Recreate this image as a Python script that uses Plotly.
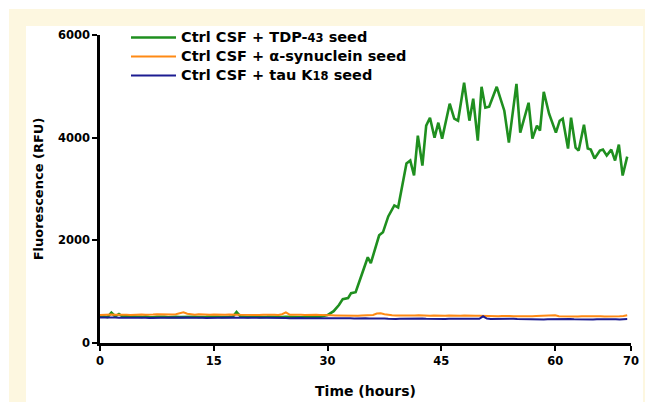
import plotly.graph_objects as go

# ---------------- data ----------------
hours = [i * 0.5 for i in range(140)]  # sampling grid, 0 .. 69.5 h

orange_rfu = [
    545, 550, 560, 555, 548, 552, 558, 550, 545, 553, 560, 556, 550, 548, 555, 562, 558, 552, 550, 556,
    560, 575, 600, 570, 555, 550, 558, 553, 548, 552, 556, 550, 545, 548, 553, 558, 552, 548, 545, 550,
    553, 548, 545, 550, 556, 552, 548, 545, 560, 595, 552, 546, 552, 548, 545, 550, 553, 548, 545, 548,
    545, 540, 538, 535, 540, 536, 532, 535, 530, 534, 538, 536, 545, 575, 580, 560, 545, 540, 538, 535,
    538, 535, 532, 536, 540, 535, 530, 533, 536, 532, 528, 532, 535, 530, 528, 532, 535, 530, 527, 530,
    532, 528, 525, 530, 527, 523, 526, 530, 525, 522, 520, 525, 528, 523, 520, 524, 527, 522, 520, 523,
    540, 522, 518, 520, 524, 520, 516, 520, 523, 518, 515, 520, 522, 518, 515, 519, 522, 520, 525, 540,
]

blue_rfu = [
    495, 498, 492, 500, 496, 490, 494, 498, 493, 490, 495, 498, 492, 488, 493, 497, 494, 490, 492, 496,
    498, 505, 500, 495, 490, 493, 497, 492, 488, 491, 495, 490, 487, 490, 494, 497, 492, 488, 486, 490,
    492, 488, 486, 490, 493, 489, 485, 487, 490, 486, 484, 488, 491, 487, 484, 486, 489, 485, 483, 486,
    488, 484, 482, 485, 488, 484, 480, 478, 482, 485, 481, 478, 480, 483, 479, 476, 470, 465, 468, 472,
    475, 478, 474, 471, 474, 477, 473, 470, 473, 476, 472, 469, 472, 475, 471, 468, 471, 474, 470, 467,
    470, 520, 475, 468, 471, 474, 470, 466, 469, 472, 468, 465, 462, 460, 463, 466, 462, 459, 462, 465,
    468, 464, 461, 464, 467, 463, 460, 463, 466, 462, 459, 462, 465, 461, 458, 461, 464, 460, 463, 466,
]

green_hours = [i * 0.5 for i in range(58)] + [
    29.0, 30.0, 30.8, 31.5, 32.0, 32.7, 33.1, 33.7, 34.5, 35.3, 35.7, 36.8, 37.3, 38.0, 38.8, 39.3,
    40.4, 40.9, 41.4, 41.9, 42.5, 43.0, 43.5, 44.1, 44.6, 45.1, 46.1, 46.7, 47.2, 48.0, 48.7, 49.2,
    49.8, 50.3, 50.8, 51.3, 52.3, 53.3, 53.9, 54.9, 55.4, 56.5, 57.0, 57.6, 58.0, 58.5, 59.2, 60.1,
    60.6, 61.0, 61.7, 62.1, 62.7, 63.1, 63.8, 64.3, 64.7, 65.2, 65.9, 66.3, 66.8, 67.4, 67.9, 68.4,
    68.9, 69.5,
]
green_rfu = [
    510, 515, 505, 590, 520, 565, 515, 530, 520, 510, 512, 508, 515, 505, 500, 510, 515, 508, 502, 510,
    508, 505, 510, 515, 520, 512, 505, 500, 508, 512, 515, 510, 505, 500, 508, 512, 605, 520, 510, 505,
    510, 515, 505, 500, 508, 512, 505, 500, 505, 510, 505, 500, 498, 502, 505, 500, 498, 502,
    510, 545, 620, 740, 854, 874, 971, 990, 1330, 1670, 1554, 2097, 2156, 2466, 2680, 2641,
    3496, 3554, 3263, 4039, 3457, 4234, 4389, 4000, 4292, 3981, 4661, 4370, 4331, 5069, 4331, 4758,
    3942, 4991, 4583, 4603, 4991, 4525, 3903, 5049, 4098, 4680, 3981, 4234, 4136, 4894, 4467, 4098,
    4330, 4370, 3787, 4389, 3806, 3748, 4253, 3787, 3767, 3593, 3748, 3767, 3651, 3767, 3554, 3864,
    3263, 3631,
]

x_ticks = [0, 15, 30, 45, 60, 70]
y_ticks = [0, 2000, 4000, 6000]

LEG = '<span style="font-size:14.5px">{}</span>'
SUB = '<span style="font-size:11.5px">{}</span>'
series_names = [
    LEG.format("Ctrl CSF + TDP-") + SUB.format("43") + LEG.format(" seed"),
    LEG.format("Ctrl CSF + \u03b1-synuclein seed"),
    LEG.format("Ctrl CSF + tau K") + SUB.format("18") + LEG.format(" seed"),
]

# ---------------- figure ----------------
FONT = "DejaVu Sans"
fig = go.Figure()
fig.add_trace(go.Scatter(x=green_hours, y=green_rfu, mode="lines", name=series_names[0],
                         line=dict(color="#1f8f1f", width=2.6)))
fig.add_trace(go.Scatter(x=hours, y=orange_rfu, mode="lines", name=series_names[1],
                         line=dict(color="#ff8a14", width=2)))
fig.add_trace(go.Scatter(x=hours, y=blue_rfu, mode="lines", name=series_names[2],
                         line=dict(color="#1c1c92", width=2)))

# plot area: px x 100..631, y 35..343
L, R, T, B = 100, 14, 35, 59
W, H = 645, 402
pw, ph = W - L - R, H - T - B


def px(x):
    return (x - L) / pw


def py(y):
    return (H - B - y) / ph


fig.add_shape(type="rect", xref="paper", yref="paper", layer="below",
              x0=px(9), x1=px(646), y0=py(9), y1=py(403),
              fillcolor="#fdf7e0", line=dict(width=0))
fig.add_shape(type="rect", xref="paper", yref="paper", layer="below",
              x0=px(26), x1=px(643), y0=py(26), y1=py(403),
              fillcolor="white", line=dict(width=0))

axis_common = dict(
    showgrid=False, zeroline=False, showline=True, linecolor="black", linewidth=2.5,
    ticks="outside", ticklen=5, tickwidth=2, tickcolor="black", automargin=False,
    tickfont=dict(family=FONT, size=11.5, color="black", weight="bold"),
)

fig.update_xaxes(range=[0, 70], tickvals=x_ticks, ticktext=[str(v) for v in x_ticks],
                 title=dict(text="Time (hours)", standoff=20,
                            font=dict(family=FONT, size=14, color="black", weight="bold")),
                 **axis_common)
fig.update_yaxes(range=[0, 6000], tickvals=y_ticks, ticktext=[str(v) for v in y_ticks],
                 title=dict(text="Fluorescence (RFU)", standoff=12,
                            font=dict(family=FONT, size=13, color="black", weight="bold")),
                 **axis_common)

fig.update_layout(
    width=W, height=H,
    margin=dict(l=L, r=R, t=T, b=B, pad=0, autoexpand=False),
    paper_bgcolor="white", plot_bgcolor="white",
    showlegend=True,
    legend=dict(x=px(126), y=py(23), xanchor="left", yanchor="top",
                bgcolor="rgba(0,0,0,0)", borderwidth=0, itemwidth=45,
                tracegroupgap=0,
                font=dict(family=FONT, size=10.5, color="black", weight="bold")),
)

fig.write_html("out.html", config={"displayModeBar": False},
               post_script="document.body.style.margin='0px';document.body.style.padding='0px';")
